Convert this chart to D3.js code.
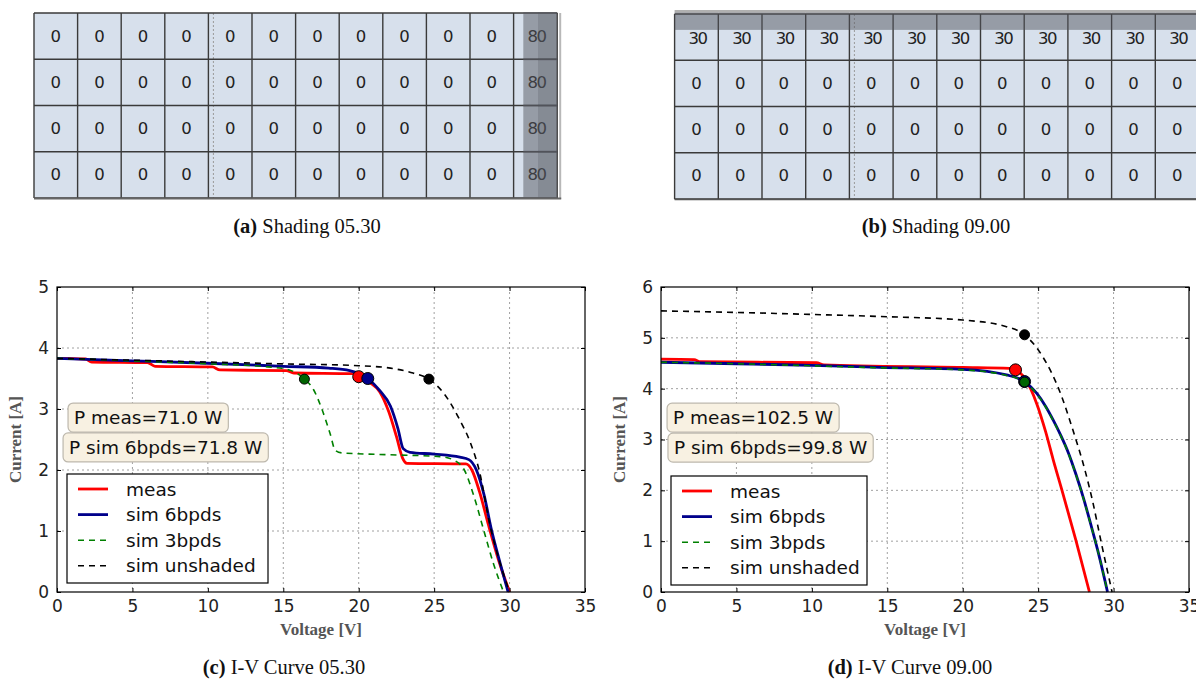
<!DOCTYPE html>
<html>
<head>
<meta charset="utf-8">
<script src="https://cdn.jsdelivr.net/npm/d3@7"></script>
<style>
  body { margin: 0; background: #fff; }
  svg { display: block; }
</style>
</head>
<body>
<svg id="fig" width="1196" height="684"></svg>
<script>
// ---------- module shading (% per cell, 4 rows x 12 cells) ----------
const cellRows = [0, 1, 2, 3];
const cellCols = d3.range(12);
const shading0530 = [
  [0, 0, 0, 0, 0, 0, 0, 0, 0, 0, 0, 80],
  [0, 0, 0, 0, 0, 0, 0, 0, 0, 0, 0, 80],
  [0, 0, 0, 0, 0, 0, 0, 0, 0, 0, 0, 80],
  [0, 0, 0, 0, 0, 0, 0, 0, 0, 0, 0, 80]
];
const shading0900 = [
  [30, 30, 30, 30, 30, 30, 30, 30, 30, 30, 30, 30],
  [0, 0, 0, 0, 0, 0, 0, 0, 0, 0, 0, 0],
  [0, 0, 0, 0, 0, 0, 0, 0, 0, 0, 0, 0],
  [0, 0, 0, 0, 0, 0, 0, 0, 0, 0, 0, 0]
];

// ---------- I-V curves, [voltage V, current A] ----------
const meas0530 = [[0,3.83],[1.9,3.82],[2.3,3.77],[6.0,3.76],[6.5,3.70],[10.3,3.69],[10.8,3.64],[15.2,3.63],[15.7,3.59],[19.6,3.58],[20.1,3.53],[20.7,3.44],[21.4,3.28],[22.0,2.95],[22.5,2.55],[22.9,2.2],[23.2,2.11],[27.1,2.10],[27.5,2.0],[28.0,1.65],[28.6,1.1],[29.3,0.5],[30.0,0]];
const sim6_0530 = [[0,3.83],[5,3.79],[10,3.75],[15,3.70],[18,3.67],[19.4,3.63],[20.6,3.50],[21.4,3.3],[22.1,3.05],[22.6,2.68],[22.95,2.35],[23.4,2.29],[25,2.26],[26.7,2.21],[27.3,2.17],[27.8,2.0],[28.3,1.6],[28.8,1.02],[29.4,0.45],[29.9,0]];
const sim3_0530 = [[0,3.83],[5,3.79],[10,3.74],[14,3.69],[15.4,3.64],[16.4,3.49],[17.0,3.32],[17.6,2.97],[18.1,2.6],[18.45,2.32],[18.9,2.28],[22,2.25],[25.4,2.22],[26.4,2.15],[27.0,2.0],[27.6,1.6],[28.3,1.0],[28.95,0.45],[29.6,0]];
const unsh_0530 = [[0,3.83],[5,3.80],[10,3.77],[15,3.74],[20,3.71],[22.1,3.67],[23.6,3.59],[24.65,3.49],[25.6,3.27],[26.7,2.82],[27.4,2.45],[28.0,1.98],[28.7,1.1],[29.4,0.45],[30.0,0]];

const meas0900 = [[0,4.58],[2.2,4.57],[2.6,4.53],[10.3,4.51],[10.8,4.47],[20,4.42],[23.1,4.40],[23.5,4.37],[24.0,4.25],[24.5,4.0],[24.9,3.71],[25.5,3.15],[26.0,2.6],[26.6,1.98],[27.5,1.02],[28.4,0]];
const sim6_0900 = [[0,4.52],[5,4.49],[10,4.46],[14.5,4.42],[20,4.38],[22.9,4.27],[24.1,4.14],[24.9,3.91],[25.5,3.65],[26.0,3.38],[26.5,3.08],[27.0,2.74],[27.5,2.32],[28.0,1.85],[28.5,1.32],[29.0,0.76],[29.6,0]];
const sim3_0900 = [[0,4.52],[5,4.49],[10,4.45],[14.5,4.41],[20,4.37],[22.9,4.26],[24.1,4.13],[24.9,3.9],[25.5,3.64],[26.0,3.37],[26.5,3.07],[27.0,2.73],[27.5,2.31],[28.0,1.84],[28.5,1.31],[29.0,0.76],[29.6,0]];
const unsh_0900 = [[0,5.53],[5,5.50],[10,5.46],[14.5,5.42],[20,5.35],[22.9,5.22],[24.1,5.06],[25.3,4.63],[26.4,3.97],[27.3,3.19],[28.1,2.4],[28.6,1.8],[29.2,0.95],[29.9,0]];

// maximum power points [V, A]
const mpp0530 = { meas: [20.0, 3.53], sim6: [20.6, 3.50], sim3: [16.4, 3.49], unsh: [24.65, 3.49] };
const mpp0900 = { meas: [23.5, 4.37], sim6: [24.1, 4.14], sim3: [24.1, 4.13], unsh: [24.1, 5.06] };

// power annotations
const power0530 = ["P meas=71.0 W", "P sim 6bpds=71.8 W"];
const power0900 = ["P meas=102.5 W", "P sim 6bpds=99.8 W"];

const xTicks = [0, 5, 10, 15, 20, 25, 30, 35];
const yTicks0530 = [0, 1, 2, 3, 4, 5];
const yTicks0900 = [0, 1, 2, 3, 4, 5, 6];
const legendNames = ["meas", "sim 6bpds", "sim 3bpds", "sim unshaded"];

const captions = [
  { tag: "(a)", text: " Shading 05.30", cx: 307, y: 233 },
  { tag: "(b)", text: " Shading 09.00", cx: 936, y: 233 },
  { tag: "(c)", text: " I-V Curve 05.30", cx: 284, y: 674 },
  { tag: "(d)", text: " I-V Curve 09.00", cx: 910, y: 674 }
];

const svg = d3.select("#fig");
const SANS = "'DejaVu Sans', sans-serif";
const SERIF = "'Liberation Serif', 'DejaVu Serif', serif";

// ---------- shading panels ----------
function drawModule(values, box, side) {
  const g = svg.append("g");
  const x = d3.scaleBand().domain(cellCols).range([box.x0, box.x1]);
  const y = d3.scaleBand().domain(cellRows).range([box.y0, box.y1]);
  const cells = [];
  values.forEach((row, r) => row.forEach((v, c) => cells.push({ r, c, v })));

  g.selectAll("rect.cell").data(cells).join("rect")
    .attr("x", d => x(d.c)).attr("y", d => y(d.r))
    .attr("width", x.bandwidth()).attr("height", y.bandwidth())
    .attr("fill", "#d7e0ec");

  g.selectAll("text.val").data(cells).join("text")
    .attr("x", d => x(d.c) + x.bandwidth() / 2 + (d.v >= 10 ? 1 : 0))
    .attr("y", d => y(d.r) + y.bandwidth() / 2 + (side === "top" && d.v > 0 ? 1 : 0))
    .attr("text-anchor", "middle").attr("dominant-baseline", "central")
    .attr("font-family", SANS).attr("font-size", 16.5)
    .attr("letter-spacing", d => d.v >= 10 ? -1.5 : 0)
    .attr("fill", "#222").text(d => d.v);

  // dotted centre line of the module
  g.append("line")
    .attr("x1", x(4) + 5).attr("x2", x(4) + 5)
    .attr("y1", box.y0).attr("y2", box.y1)
    .attr("stroke", "#9a9a9a").attr("stroke-width", 1).attr("stroke-dasharray", "2,2");

  // cell borders
  g.selectAll("line.col").data(d3.range(13)).join("line")
    .attr("x1", i => box.x0 + i * x.bandwidth()).attr("x2", i => box.x0 + i * x.bandwidth())
    .attr("y1", box.y0).attr("y2", box.y1)
    .attr("stroke", "#3a3a3a").attr("stroke-width", 1.4);
  g.selectAll("line.row").data(d3.range(5)).join("line")
    .attr("x1", box.x0).attr("x2", box.x1)
    .attr("y1", i => box.y0 + i * y.bandwidth()).attr("y2", i => box.y0 + i * y.bandwidth())
    .attr("stroke", "#3a3a3a").attr("stroke-width", 1.4);

  // shadow overlays, sized by the shading percentage
  const shaded = cells.filter(d => d.v > 0);
  if (side === "right") {
    g.selectAll("rect.sh").data(shaded).join("rect")
      .attr("x", d => x(d.c) + x.bandwidth() * (1 - d.v / 100) + 1)
      .attr("y", d => y(d.r) - 1)
      .attr("width", d => x.bandwidth() * d.v / 100 - 1)
      .attr("height", y.bandwidth() + 2)
      .attr("fill", "#55585f").attr("fill-opacity", 0.5);
    g.selectAll("rect.sh2").data(shaded).join("rect")
      .attr("x", d => x(d.c) + x.bandwidth() * 0.56)
      .attr("y", d => y(d.r) - 1)
      .attr("width", x.bandwidth() * 0.44)
      .attr("height", y.bandwidth() + 2)
      .attr("fill", "#55585f").attr("fill-opacity", 0.25);
    g.append("line").attr("x1", box.x1 + 3).attr("x2", box.x1 + 3)
      .attr("y1", box.y0).attr("y2", box.y1 + 1)
      .attr("stroke", "#b8b8b8").attr("stroke-width", 2);
    g.append("line").attr("x1", box.x0).attr("x2", box.x1 + 4)
      .attr("y1", box.y1 + 0.5).attr("y2", box.y1 + 0.5)
      .attr("stroke", "#666").attr("stroke-width", 2);
  } else {
    g.selectAll("rect.sh").data(shaded).join("rect")
      .attr("x", d => x(d.c))
      .attr("y", d => y(d.r) - 2)
      .attr("width", x.bandwidth())
      .attr("height", d => y.bandwidth() * d.v / 100 + 4)
      .attr("fill", "#55585f").attr("fill-opacity", 0.5);
    g.append("line").attr("x1", box.x0).attr("x2", box.x1)
      .attr("y1", box.y0 - 3).attr("y2", box.y0 - 3)
      .attr("stroke", "#b0b0b0").attr("stroke-width", 2);
    g.append("line").attr("x1", box.x0).attr("x2", box.x1)
      .attr("y1", box.y1 + 0.5).attr("y2", box.y1 + 0.5)
      .attr("stroke", "#555").attr("stroke-width", 1.5);
  }
}

drawModule(shading0530, { x0: 34, x1: 557.2, y0: 13, y1: 198 }, "right");
drawModule(shading0900, { x0: 674.6, x1: 1199, y0: 14, y1: 199 }, "top");

// ---------- I-V panels ----------
const seriesStyle = {
  meas: { color: "#ff0000", width: 2.8, dash: null, fill: "#ff0000", r: 6 },
  sim6: { color: "#00008b", width: 2.8, dash: null, fill: "#00008b", r: 6 },
  sim3: { color: "#008000", width: 1.6, dash: "6,5", fill: "#006400", r: 5 },
  unsh: { color: "#000000", width: 1.6, dash: "6,5", fill: "#000000", r: 5 }
};
const seriesKeys = ["meas", "sim6", "sim3", "unsh"];

function drawIV(cfg) {
  const g = svg.append("g");
  const x = d3.scaleLinear().domain([0, 35]).range([cfg.left, cfg.right]);
  const y = d3.scaleLinear().domain([0, cfg.ymax]).range([cfg.bottom, cfg.top]);

  // grid
  g.selectAll("line.gx").data(xTicks.slice(1, -1)).join("line")
    .attr("x1", d => x(d)).attr("x2", d => x(d)).attr("y1", cfg.top).attr("y2", cfg.bottom)
    .attr("stroke", "#a0a0a0").attr("stroke-width", 1).attr("stroke-dasharray", "2,3");
  g.selectAll("line.gy").data(cfg.yTicks.slice(1, -1)).join("line")
    .attr("y1", d => y(d)).attr("y2", d => y(d)).attr("x1", cfg.left).attr("x2", cfg.right)
    .attr("stroke", "#a0a0a0").attr("stroke-width", 1).attr("stroke-dasharray", "2,3");

  // curves
  const line = d3.line().x(d => x(d[0])).y(d => y(d[1])).curve(d3.curveMonotoneX);
  const clipId = "clip" + cfg.id;
  g.append("clipPath").attr("id", clipId).append("rect")
    .attr("x", cfg.left).attr("y", cfg.top).attr("width", cfg.right - cfg.left).attr("height", cfg.bottom - cfg.top + 2);
  const plot = g.append("g").attr("clip-path", `url(#${clipId})`);
  seriesKeys.forEach(k => {
    const s = seriesStyle[k];
    plot.append("path").datum(cfg.curves[k]).attr("d", line)
      .attr("fill", "none").attr("stroke", s.color).attr("stroke-width", s.width)
      .attr("stroke-dasharray", s.dash).attr("stroke-linejoin", "round");
  });
  // MPP markers
  seriesKeys.forEach(k => {
    const s = seriesStyle[k];
    const p = cfg.mpp[k];
    plot.append("circle").attr("cx", x(p[0])).attr("cy", y(p[1])).attr("r", s.r)
      .attr("fill", s.fill).attr("stroke", "#000").attr("stroke-width", 1);
  });

  // frame
  g.append("rect").attr("x", cfg.left).attr("y", cfg.top)
    .attr("width", cfg.right - cfg.left).attr("height", cfg.bottom - cfg.top)
    .attr("fill", "none").attr("stroke", "#000").attr("stroke-width", 1.2);

  // inward ticks on all four sides + labels via d3 axes
  const axB = d3.axisBottom(x).tickValues(xTicks).tickSize(-4).tickPadding(8).tickFormat(d3.format("d"));
  const axT = d3.axisTop(x).tickValues(xTicks).tickSize(-4).tickFormat("");
  const axL = d3.axisLeft(y).tickValues(cfg.yTicks).tickSize(-4).tickPadding(8).tickFormat(d3.format("d"));
  const axR = d3.axisRight(y).tickValues(cfg.yTicks).tickSize(-4).tickFormat("");
  const styleAxis = sel => {
    sel.select(".domain").remove();
    sel.selectAll(".tick line").attr("stroke", "#000").attr("stroke-width", 1);
    sel.selectAll(".tick text").attr("font-family", SANS).attr("font-size", 17).attr("fill", "#222");
  };
  g.append("g").attr("transform", `translate(0,${cfg.bottom})`).call(axB).call(styleAxis);
  g.append("g").attr("transform", `translate(0,${cfg.top})`).call(axT).call(styleAxis);
  g.append("g").attr("transform", `translate(${cfg.left},0)`).call(axL).call(styleAxis);
  g.append("g").attr("transform", `translate(${cfg.right},0)`).call(axR).call(styleAxis);

  // axis titles
  g.append("text").attr("x", (cfg.left + cfg.right) / 2).attr("y", cfg.bottom + 43)
    .attr("text-anchor", "middle").attr("font-family", SERIF).attr("font-weight", "bold")
    .attr("font-size", 17).attr("fill", "#555").text("Voltage [V]");
  g.append("text")
    .attr("transform", `translate(${cfg.left - 36},${(cfg.top + cfg.bottom) / 2}) rotate(-90)`)
    .attr("text-anchor", "middle").attr("font-family", SERIF).attr("font-weight", "bold")
    .attr("font-size", 17).attr("fill", "#555").text("Current [A]");

  // power annotations
  cfg.power.forEach((txt, i) => {
    const a = cfg.powerPos[i];
    const t = g.append("text").attr("x", x(a[0])).attr("y", y(a[1]))
      .attr("dominant-baseline", "central").attr("font-family", SANS).attr("font-size", 18.5)
      .attr("fill", "#111").text(txt);
    const bb = t.node().getBBox();
    g.insert("rect", () => t.node())
      .attr("x", bb.x - 6).attr("y", y(a[1]) - 14.5)
      .attr("width", bb.width + 12).attr("height", 29)
      .attr("rx", 5).attr("ry", 5)
      .attr("fill", "#f8f1e2").attr("stroke", "#bdb8ad").attr("stroke-width", 1.2);
  });

  // legend
  const lg = g.append("g");
  lg.append("rect").attr("x", cfg.legend.x0).attr("y", cfg.legend.y0)
    .attr("width", cfg.legend.w).attr("height", 109)
    .attr("fill", "#fff").attr("stroke", "#000").attr("stroke-width", 1.2);
  seriesKeys.forEach((k, i) => {
    const s = seriesStyle[k];
    const yy = cfg.legend.y0 + 15 + i * 25.6;
    lg.append("line").attr("x1", cfg.legend.x0 + 11).attr("x2", cfg.legend.x0 + 41)
      .attr("y1", yy).attr("y2", yy)
      .attr("stroke", s.color).attr("stroke-width", s.width).attr("stroke-dasharray", s.dash);
    lg.append("text").attr("x", cfg.legend.x0 + 59).attr("y", yy)
      .attr("dominant-baseline", "central").attr("font-family", SANS).attr("font-size", 18.5)
      .attr("fill", "#111").text(legendNames[i]);
  });
}

drawIV({
  id: "c", left: 57, right: 585, top: 287, bottom: 592, ymax: 5, yTicks: yTicks0530,
  curves: { meas: meas0530, sim6: sim6_0530, sim3: sim3_0530, unsh: unsh_0530 },
  mpp: mpp0530, power: power0530, powerPos: [[1.13, 2.86], [0.8, 2.37]],
  legend: { x0: 67, y0: 474, w: 201 }
});
drawIV({
  id: "d", left: 661, right: 1189, top: 287, bottom: 592, ymax: 6, yTicks: yTicks0900,
  curves: { meas: meas0900, sim6: sim6_0900, sim3: sim3_0900, unsh: unsh_0900 },
  mpp: mpp0900, power: power0900, powerPos: [[0.8, 3.43], [0.86, 2.84]],
  legend: { x0: 671, y0: 476, w: 196 }
});

// ---------- captions ----------
captions.forEach(c => {
  const t = svg.append("text").attr("x", c.cx).attr("y", c.y).attr("text-anchor", "middle")
    .attr("font-family", SERIF).attr("font-size", 20.5).attr("fill", "#111");
  t.append("tspan").attr("font-weight", "bold").text(c.tag);
  t.append("tspan").text(c.text);
});
</script>
</body>
</html>
